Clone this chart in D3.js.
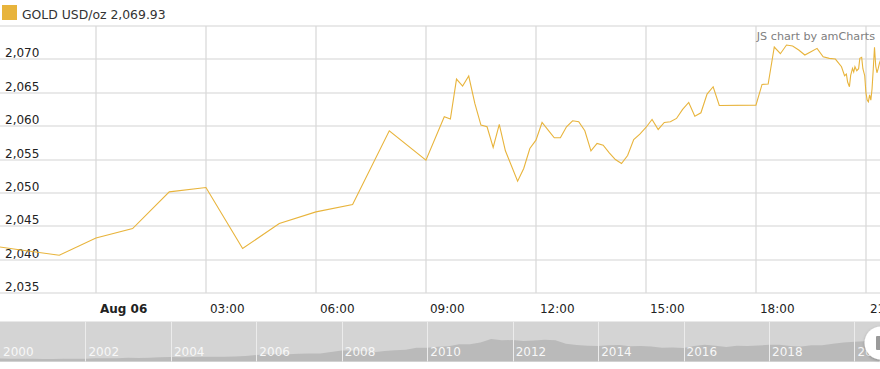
<!DOCTYPE html>
<html lang="en">
<head>
<meta charset="UTF-8">
<title>GOLD USD/oz</title>
<script src="https://d3js.org/d3.v7.min.js"></script>
<style>
  body { margin: 0; background: #fff; }
  svg text { font-family: "DejaVu Sans", Verdana, sans-serif; }
</style>
</head>
<body>
<svg id="chart" width="880" height="369"></svg>
<script>
// intraday gold price, Aug 5-6 2020
const times = [
  "2020-08-05 21:00", "2020-08-05 22:00", "2020-08-05 23:00",
  "2020-08-06 00:00", "2020-08-06 01:00", "2020-08-06 02:00", "2020-08-06 03:00",
  "2020-08-06 04:00", "2020-08-06 05:00", "2020-08-06 06:00", "2020-08-06 07:00",
  "2020-08-06 08:00", "2020-08-06 09:00", "2020-08-06 09:30", "2020-08-06 09:40",
  "2020-08-06 09:50", "2020-08-06 10:00", "2020-08-06 10:10", "2020-08-06 10:20",
  "2020-08-06 10:30", "2020-08-06 10:40", "2020-08-06 10:50", "2020-08-06 11:00",
  "2020-08-06 11:10", "2020-08-06 11:30", "2020-08-06 11:40", "2020-08-06 11:50",
  "2020-08-06 12:00", "2020-08-06 12:10", "2020-08-06 12:20", "2020-08-06 12:30",
  "2020-08-06 12:40", "2020-08-06 12:50", "2020-08-06 13:00", "2020-08-06 13:10",
  "2020-08-06 13:20", "2020-08-06 13:30", "2020-08-06 13:40", "2020-08-06 13:50",
  "2020-08-06 14:00", "2020-08-06 14:10", "2020-08-06 14:20", "2020-08-06 14:30",
  "2020-08-06 14:40", "2020-08-06 14:50", "2020-08-06 15:00", "2020-08-06 15:10",
  "2020-08-06 15:20", "2020-08-06 15:30", "2020-08-06 15:40", "2020-08-06 15:50",
  "2020-08-06 16:00", "2020-08-06 16:10", "2020-08-06 16:20", "2020-08-06 16:30",
  "2020-08-06 16:40", "2020-08-06 16:50", "2020-08-06 17:00", "2020-08-06 18:00",
  "2020-08-06 18:10", "2020-08-06 18:20", "2020-08-06 18:30", "2020-08-06 18:40",
  "2020-08-06 18:50", "2020-08-06 19:00", "2020-08-06 19:10", "2020-08-06 19:20",
  "2020-08-06 19:30", "2020-08-06 19:40", "2020-08-06 19:50", "2020-08-06 20:00",
  "2020-08-06 20:10", "2020-08-06 20:20", "2020-08-06 20:25", "2020-08-06 20:28",
  "2020-08-06 20:30", "2020-08-06 20:33", "2020-08-06 20:35", "2020-08-06 20:38",
  "2020-08-06 20:40", "2020-08-06 20:42", "2020-08-06 20:45", "2020-08-06 20:48",
  "2020-08-06 20:50", "2020-08-06 20:53", "2020-08-06 20:55", "2020-08-06 20:58",
  "2020-08-06 21:00", "2020-08-06 21:02", "2020-08-06 21:04", "2020-08-06 21:06",
  "2020-08-06 21:08", "2020-08-06 21:10", "2020-08-06 21:12", "2020-08-06 21:14",
  "2020-08-06 21:16", "2020-08-06 21:18", "2020-08-06 21:20", "2020-08-06 21:22",
  "2020-08-06 21:24"
];
const prices = [
  2042.2, 2041.4, 2040.65,
  2043.25, 2044.66, 2050.15, 2050.8,
  2041.66, 2045.4, 2047.15, 2048.26,
  2059.3, 2054.9, 2061.4, 2061.05,
  2067.05, 2066.0, 2067.5, 2063.4,
  2060.15, 2059.9, 2056.8, 2060.25,
  2056.3, 2051.75, 2053.65, 2056.65,
  2057.9, 2060.55, 2059.4, 2058.25,
  2058.25, 2059.9, 2060.8, 2060.65,
  2059.3, 2056.3, 2057.4, 2057.15,
  2056.0, 2055.0, 2054.4, 2055.6,
  2058.0, 2058.8, 2059.8, 2061.0,
  2059.5, 2060.55, 2060.65, 2061.15,
  2062.5, 2063.55, 2061.5, 2062.0,
  2064.8, 2065.9, 2063.1, 2063.15,
  2066.25, 2066.3, 2071.85, 2070.85,
  2072.15, 2072.0, 2071.4, 2070.65,
  2071.15, 2071.65, 2070.4, 2070.15,
  2070.05, 2068.9, 2067.55, 2067.8,
  2066.6, 2065.9, 2067.6, 2068.65,
  2068.1, 2068.9, 2068.3, 2068.6,
  2070.15, 2070.3, 2068.6, 2067.55,
  2065.0, 2063.9, 2063.65, 2064.7,
  2063.9, 2065.6, 2068.6, 2071.8,
  2069.0, 2068.0, 2068.6, 2069.4,
  2069.93
];
const yTicks = [2035, 2040, 2045, 2050, 2055, 2060, 2065, 2070, 2075];

// long history for the scrollbar (quarterly)
const histDates = [
  "2000-01", "2000-04", "2000-07", "2000-10", "2001-01", "2001-04", "2001-07", "2001-10",
  "2002-01", "2002-04", "2002-07", "2002-10", "2003-01", "2003-04", "2003-07", "2003-10",
  "2004-01", "2004-04", "2004-07", "2004-10", "2005-01", "2005-04", "2005-07", "2005-10",
  "2006-01", "2006-04", "2006-07", "2006-10", "2007-01", "2007-04", "2007-07", "2007-10",
  "2008-01", "2008-04", "2008-07", "2008-10", "2009-01", "2009-04", "2009-07", "2009-10",
  "2010-01", "2010-04", "2010-07", "2010-10", "2011-01", "2011-04", "2011-07", "2011-10",
  "2012-01", "2012-04", "2012-07", "2012-10", "2013-01", "2013-04", "2013-07", "2013-10",
  "2014-01", "2014-04", "2014-07", "2014-10", "2015-01", "2015-04", "2015-07", "2015-10",
  "2016-01", "2016-04", "2016-07", "2016-10", "2017-01", "2017-04", "2017-07", "2017-10",
  "2018-01", "2018-04", "2018-07", "2018-10", "2019-01", "2019-04", "2019-07", "2019-10",
  "2020-01", "2020-04", "2020-07", "2020-08"
];
const histPrices = [
  288, 280, 285, 272, 265, 262, 272, 280,
  282, 305, 318, 322, 358, 330, 355, 388,
  410, 395, 400, 430, 425, 430, 438, 480,
  555, 620, 625, 615, 650, 665, 680, 790,
  900, 900, 860, 760, 860, 920, 950, 1110,
  1110, 1180, 1230, 1370, 1380, 1500, 1780, 1680,
  1690, 1620, 1660, 1720, 1670, 1420, 1320, 1260,
  1250, 1300, 1310, 1220, 1250, 1200, 1110, 1120,
  1100, 1250, 1330, 1270, 1160, 1260, 1250, 1280,
  1330, 1330, 1240, 1200, 1290, 1300, 1410, 1500,
  1560, 1600, 1790, 2069
];

const W = 880;
const plotTop = 26, plotBottom = 293;
const sbTop = 321.5, sbBottom = 361.5;
const lineColor = "#e8b43c";

const parseT = d3.timeParse("%Y-%m-%d %H:%M");
const parseM = d3.timeParse("%Y-%m");
const data = times.map((t, i) => ({ t: parseT(t), v: prices[i] }));
const hist = histDates.map((t, i) => ({ t: parseM(t), v: histPrices[i] }));

const svg = d3.select("#chart");

// main scales: 36.67 px per hour, Aug 06 00:00 at x=96
const x = d3.scaleTime()
  .domain([parseT("2020-08-05 21:23"), parseT("2020-08-06 21:23")])
  .range([0, W]);
const y = d3.scaleLinear().domain([2035, 2075]).range([plotBottom, plotTop]);

svg.append("defs").append("clipPath").attr("id", "plotClip")
  .append("rect").attr("x", 0).attr("y", plotTop).attr("width", W).attr("height", plotBottom - plotTop);

// horizontal grid
svg.append("g").selectAll("line")
  .data(yTicks)
  .enter().append("line")
  .attr("x1", 0).attr("x2", W)
  .attr("y1", d => Math.round(y(d)))
  .attr("y2", d => Math.round(y(d)))
  .attr("stroke", "#e2e2e2")
  .attr("stroke-width", 1.3);

// vertical grid
const xTicks = x.ticks(d3.timeHour.every(3));
svg.append("g").selectAll("line")
  .data(xTicks)
  .enter().append("line")
  .attr("x1", d => Math.round(x(d)))
  .attr("x2", d => Math.round(x(d)))
  .attr("y1", plotTop).attr("y2", plotBottom)
  .attr("stroke", "#dadada")
  .attr("stroke-width", 1.3);

// y labels, inside the plot
svg.append("g").selectAll("text")
  .data(yTicks.filter(d => d < 2075))
  .enter().append("text")
  .attr("x", 5)
  .attr("y", d => y(d) - 2)
  .attr("font-size", 12)
  .attr("fill", "#222")
  .text(d => d3.format(",")(d));

// x labels
svg.append("g").selectAll("text")
  .data(xTicks)
  .enter().append("text")
  .attr("x", d => x(d) + 4)
  .attr("y", 312.5)
  .attr("font-size", 12)
  .attr("fill", "#222")
  .attr("font-weight", d => d.getHours() === 0 ? "bold" : "normal")
  .text(d => d.getHours() === 0 ? d3.timeFormat("%b %d")(d) : d3.timeFormat("%H:%M")(d));

// price line
svg.append("path")
  .datum(data)
  .attr("clip-path", "url(#plotClip)")
  .attr("fill", "none")
  .attr("stroke", lineColor)
  .attr("stroke-width", 1.1)
  .attr("d", d3.line().x(d => x(d.t)).y(d => y(d.v)));

// legend
svg.append("rect")
  .attr("x", 2).attr("y", 5).attr("width", 15).attr("height", 15)
  .attr("fill", lineColor);
svg.append("text")
  .attr("x", 22).attr("y", 18.5)
  .attr("font-size", 12.4)
  .attr("fill", "#333")
  .text("GOLD USD/oz " + d3.format(",.2f")(prices[prices.length - 1]));

// credit
svg.append("text")
  .attr("x", 875).attr("y", 40)
  .attr("text-anchor", "end")
  .attr("font-size", 11.2)
  .attr("fill", "#808080")
  .text("JS chart by amCharts");

// scrollbar
const sx = d3.scaleTime()
  .domain([new Date(2000, 0, 1), new Date(2020, 7, 7)])
  .range([0, W]);
const sy = d3.scaleLinear().domain([0, 3030]).range([362.4, 322.4]);

const sb = svg.append("g");
sb.append("rect")
  .attr("x", 0).attr("y", sbTop).attr("width", W).attr("height", sbBottom - sbTop)
  .attr("fill", "#d4d4d4");
sb.append("path")
  .datum(hist)
  .attr("fill", "#bababa")
  .attr("d", d3.area().x(d => sx(d.t)).y0(sbBottom).y1(d => Math.min(sbBottom, sy(d.v))));

const years = sx.ticks(d3.timeYear.every(2));
sb.selectAll(".sep")
  .data(years.filter(d => sx(d) > 1))
  .enter().append("line")
  .attr("class", "sep")
  .attr("x1", d => Math.round(sx(d)) + 0.5)
  .attr("x2", d => Math.round(sx(d)) + 0.5)
  .attr("y1", sbTop).attr("y2", sbBottom)
  .attr("stroke", "#ececec")
  .attr("stroke-width", 1);
sb.selectAll(".yr")
  .data(years)
  .enter().append("text")
  .attr("class", "yr")
  .attr("x", d => sx(d) + 3)
  .attr("y", 355.5)
  .attr("font-size", 12)
  .attr("fill", "#f7f7f7")
  .text(d => d3.timeFormat("%Y")(d));

// grip
const shadow = svg.select("defs").append("filter").attr("id", "gripShadow")
  .attr("x", "-50%").attr("y", "-50%").attr("width", "200%").attr("height", "200%");
shadow.append("feDropShadow")
  .attr("dx", 0).attr("dy", 1).attr("stdDeviation", 1.5)
  .attr("flood-color", "#000").attr("flood-opacity", 0.25);
sb.append("circle")
  .attr("cx", 881).attr("cy", 343).attr("r", 16.5)
  .attr("fill", "#fff")
  .attr("filter", "url(#gripShadow)");
sb.append("rect")
  .attr("x", 876).attr("y", 336).attr("width", 6).attr("height", 14).attr("rx", 1)
  .attr("fill", "#9a9a9a");
</script>
</body>
</html>
